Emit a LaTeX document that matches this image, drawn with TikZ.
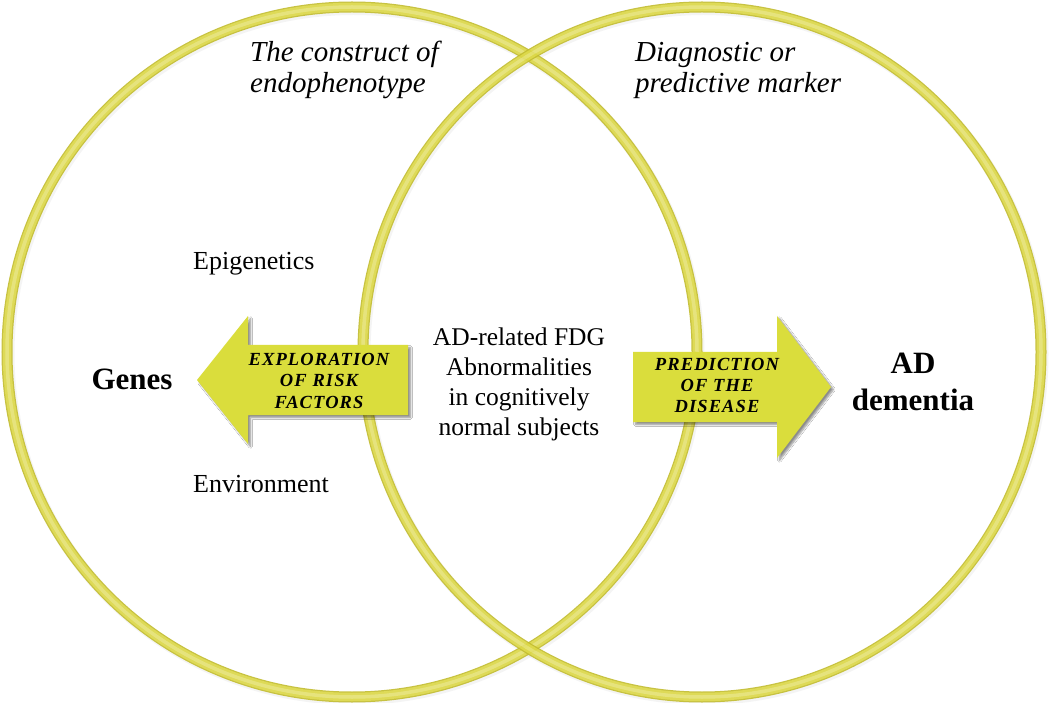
\documentclass[tikz,border=0pt]{standalone}
\usepackage{fontspec}
\setmainfont{Liberation Serif}
\newfontfamily\arrowfont[LetterSpace=6]{Liberation Serif}
\usetikzlibrary{shadows.blur}
\definecolor{ringmid}{RGB}{220,216,70}
\definecolor{ringedge}{RGB}{194,188,46}
\definecolor{ringhi}{RGB}{238,236,150}
\definecolor{arrowfill}{RGB}{218,221,60}
\begin{document}
\begin{tikzpicture}[x=1pt,y=-1pt,
  lbl/.style={inner sep=0pt, text=black},
  plain/.style={lbl, font=\fontsize{26}{30}\selectfont},
  head/.style={lbl, align=left, font=\fontsize{29}{31}\selectfont\itshape},
  big/.style={lbl, align=center, font=\fontsize{31}{37}\selectfont\bfseries},
  arrowtxt/.style={lbl, align=center, font=\fontsize{18.5}{21.5}\selectfont\arrowfont\bfseries\itshape},
  arrowshape/.style={fill=arrowfill, draw=none,
    blur shadow={shadow xshift=2.5pt, shadow yshift=-2.5pt, shadow blur steps=6, shadow opacity=45}},
  ringshadow/.style={draw=black!40, line width=12pt, opacity=0.10},
  ringouter/.style={draw=ringedge, line width=11pt},
  ringinner/.style={draw=ringmid, line width=8.5pt},
  ringlight/.style={draw=ringhi, line width=3.5pt}
]
\useasboundingbox (0,0) rectangle (1050,703);
\fill[white] (0,0) rectangle (1050,703);

\coordinate (cl) at (352,352);
\coordinate (cr) at (702,352);

% ring shadows
\draw[ringshadow] ([xshift=1.5pt,yshift=-2pt]cl) circle[radius=345pt];
\draw[ringshadow] ([xshift=1.5pt,yshift=-2pt]cr) ellipse[x radius=339pt, y radius=345pt];

% left ring
\begin{scope}[transparency group, opacity=0.9]
\draw[ringouter] (cl) circle[radius=345pt];
\draw[ringinner] (cl) circle[radius=345pt];
\draw[ringlight, opacity=0.55] (cl) circle[radius=345pt];
\end{scope}
% right ring
\begin{scope}[transparency group, opacity=0.9]
\draw[ringouter] (cr) ellipse[x radius=339pt, y radius=345pt];
\draw[ringinner] (cr) ellipse[x radius=339pt, y radius=345pt];
\draw[ringlight, opacity=0.55] (cr) ellipse[x radius=339pt, y radius=345pt];
\end{scope}

% arrows
\path[arrowshape] (408,345) -- (248,345) -- (248,316) -- (197,380) -- (248,444) -- (248,415) -- (408,415) -- cycle;
\path[arrowshape] (633,352) -- (777,352) -- (777,316) -- (831,387) -- (777,458) -- (777,422) -- (633,422) -- cycle;

% texts in arrows (anchor base = baseline of last line)
\node[arrowtxt, anchor=base] (explo) at (319,408) {EXPLORATION\\OF RISK\\FACTORS};
\node[arrowtxt, anchor=base] (pred) at (717,413) {PREDICTION\\OF THE\\DISEASE};

% headings
\node[head, anchor=base west] (construct) at (250,93) {The construct of\\endophenotype};
\node[head, anchor=base west] (diag) at (635,93) {Diagnostic or\\predictive marker};

% labels
\node[plain, anchor=base west] (epi) at (193,270) {Epigenetics};
\node[plain, anchor=base west] (env) at (193,492) {Environment};
\node[big, anchor=base] (genes) at (132,389) {Genes};
\node[big, anchor=base] (ad) at (913,410) {AD\\dementia};
\node[lbl, align=center, anchor=base, font=\fontsize{25.5}{30}\selectfont] (fdg) at (519,435)
  {AD-related FDG\\Abnormalities\\in cognitively\\normal subjects};
\end{tikzpicture}
\end{document}
